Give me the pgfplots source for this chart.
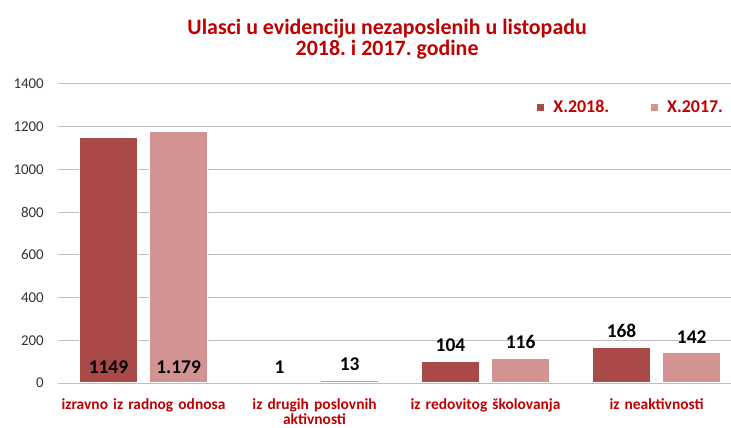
\documentclass[border=0pt]{standalone}
\usepackage{pgfplots}
\pgfplotsset{compat=1.18}
\usepackage{fontspec}
\setmainfont{Carlito}
\usetikzlibrary{calc}
\definecolor{darkbar}{HTML}{AA4A48}
\definecolor{lightbar}{HTML}{D29392}
\definecolor{titlered}{HTML}{C00000}
\definecolor{gridgray}{HTML}{BFBFBF}
\frenchspacing
\begin{document}
\begin{tikzpicture}
\begin{axis}[
  scale only axis,
  width=673bp, height=299bp,
  xmin=-0.5, xmax=3.435,
  ymin=0, ymax=1400,
  enlargelimits=false,
  ytick={0,200,...,1400},
  xtick={0,1,2,3},
  xticklabels={izravno iz radnog odnosa, iz drugih poslovnih aktivnosti, iz redovitog školovanja, iz neaktivnosti},
  axis x line*=bottom, axis y line*=left,
  y axis line style={draw=none},
  x axis line style={gridgray, line width=1bp},
  major tick length=0pt,
  ymajorgrids,
  grid style={gridgray, line width=1bp},
  /pgf/number format/assume math mode=true,
  /pgf/number format/set thousands separator={},
  yticklabel style={font=\fontsize{15}{18}\selectfont, text=black!80, anchor=east, inner sep=0pt, xshift=-14bp},
  xticklabel style={font=\fontsize{15.5}{16}\selectfont\bfseries, text=titlered, anchor=north, inner sep=0pt, yshift=-15bp, text width=168bp, align=center},
  title={Ulasci u evidenciju nezaposlenih u listopadu\\2018. i 2017. godine},
  title style={font=\fontsize{22}{21}\selectfont\bfseries, text=titlered, align=center, at={(rel axis cs:0.489,1)}, anchor=south, inner sep=0pt, yshift=19bp},
  legend columns=2,
  legend style={draw=none, fill=none, at={(rel axis cs:0.712,0.923)}, anchor=west, inner sep=0pt,
    font=\fontsize{18}{21}\selectfont\bfseries, text=titlered,
    /tikz/every odd column/.append style={column sep=7bp},
    /tikz/every even column/.append style={column sep=40bp}},
  legend image code/.code={\fill[#1, draw=none] (0bp,-3.5bp) rectangle (7bp,3.5bp);},
  nodes near coords style={font=\fontsize{19.5}{22}\selectfont\bfseries, text=black, anchor=center, yshift=16bp},
]
\addplot[ybar, bar width=0.34, bar shift=-0.205, fill=darkbar, draw=white, line width=1.5bp]
  coordinates {(0,1149) (1,1) (2,104) (3,168)};
\addlegendentry{X.2018.}
\addplot[ybar, bar width=0.34, bar shift=0.205, fill=lightbar, draw=white, line width=1.5bp]
  coordinates {(0,1179) (1,13) (2,116) (3,142)};
\addlegendentry{X.2017.}
\addplot[draw=none, mark=none, nodes near coords, point meta=explicit symbolic, forget plot]
  coordinates {(-0.205,0)[1149] (0.795,1)[1] (1.795,104)[104] (2.795,168)[168]};
\addplot[draw=none, mark=none, nodes near coords, point meta=explicit symbolic, forget plot]
  coordinates {(0.205,0)[1.179] (1.205,13)[13] (2.205,116)[116] (3.205,142)[142]};
\end{axis}
\pgfresetboundingbox
\path[use as bounding box] ($(current axis.south west)+(-58bp,-45bp)$) rectangle ($(current axis.south west)+(673bp,383bp)$);
\end{tikzpicture}
\end{document}
